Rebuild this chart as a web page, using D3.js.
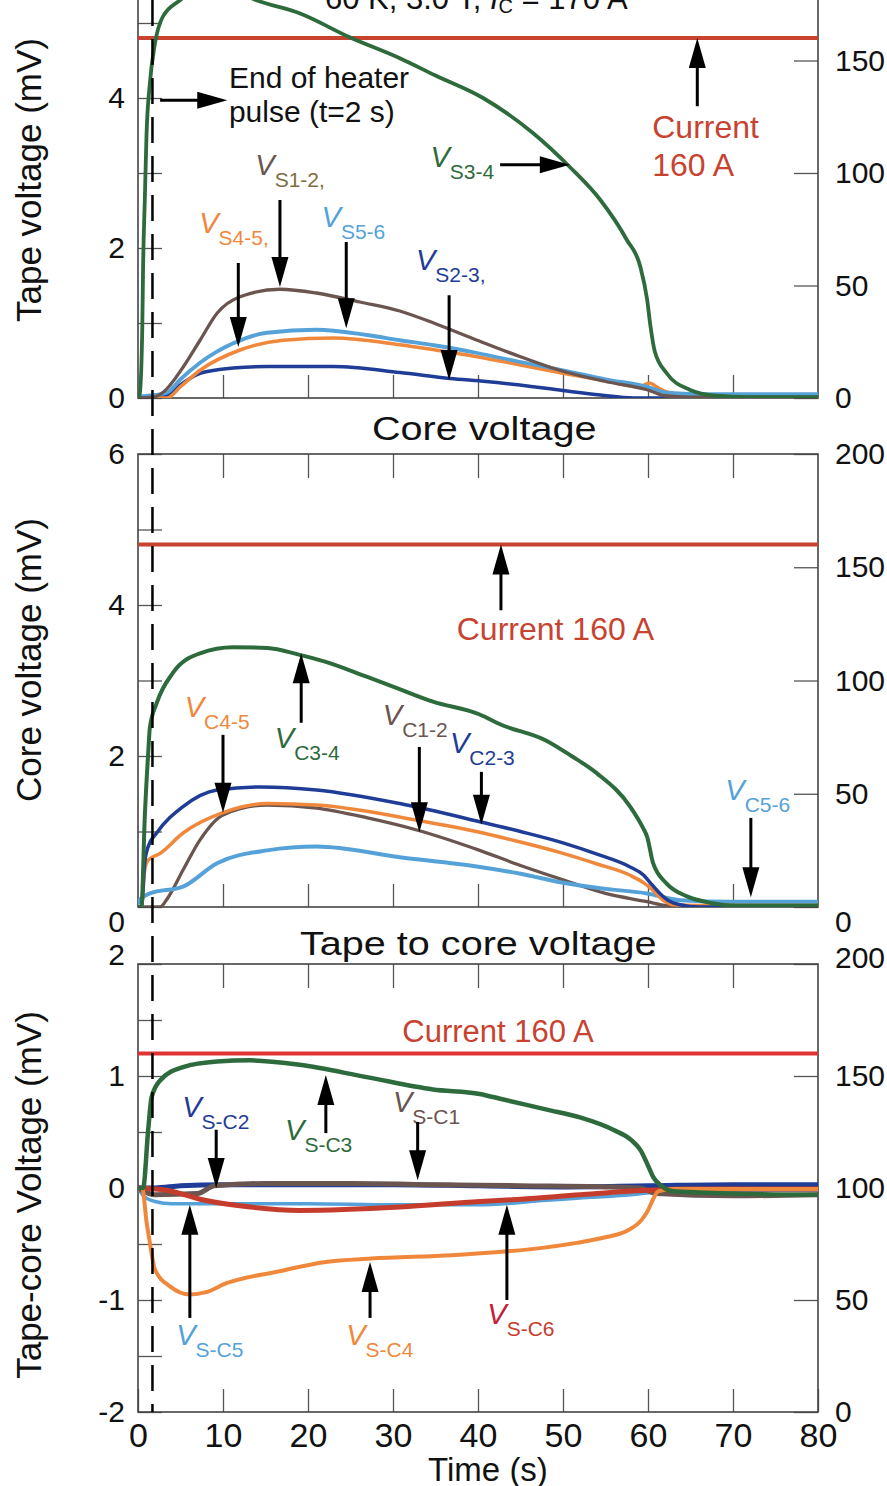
<!DOCTYPE html>
<html><head><meta charset="utf-8">
<script src="https://cdn.jsdelivr.net/npm/d3@7"></script>
<style>
body{margin:0;background:#fff;}
svg{display:block;}
</style></head><body>
<svg id="c" width="887" height="1486"></svg>
<script>
// ---------------- DATA ----------------
const timeTicks = [0,10,20,30,40,50,60,70,80];
const minorTimeTicks = [10,20,30,40,50,60,70];
const currentTicks = [0,50,100,150,200];
const currentLevel = 160;         // A
const heaterEnd = 1.7;            // s (position of dashed line)
const titleMain = "60 K, 3.0 T, ";
const titleSub = "C";
const titleEnd = " = 170 A";

// Tape voltage (mV) vs time (s)
const vS34 = [[0,0],[0.2,0.05],[0.5,0.9],[0.6,1.75],[0.8,2.64],[1.0,3.5],[1.4,4.2],[2,4.73],[2.9,5.08],[4.9,5.3],[9,5.55],[14,5.3],[19,5.13],[24.9,4.81],[30.8,4.53],[35,4.3],[40.6,4.0],[46.5,3.53],[50.8,3.08],[54.4,2.64],[57.5,2.11],[59.1,1.75],[59.9,1.31],[60.3,0.95],[60.8,0.62],[62.2,0.33],[64.9,0.11],[68,0.03],[72,0.01],[80,0.01]];
const vS12 = [[0,0],[1.8,0.01],[3,0.08],[5.3,0.41],[7.3,0.77],[9.3,1.13],[12,1.35],[16.7,1.45],[21,1.4],[26.1,1.28],[30.8,1.16],[35,0.99],[39.9,0.77],[45,0.55],[49.6,0.37],[55,0.22],[59.9,0.11],[62,0.03],[65,0.01],[80,0.01]];
const vS56 = [[0,0.02],[2,0.04],[3.4,0.07],[5,0.25],[7.3,0.47],[11.2,0.73],[15.2,0.87],[21,0.91],[26.9,0.84],[30.8,0.77],[35,0.7],[39.9,0.6],[45,0.48],[50,0.37],[55,0.25],[59.9,0.15],[62.2,0.07],[66,0.05],[80,0.05]];
const vS45 = [[0,0],[3.4,0.0],[5,0.15],[7.3,0.37],[12,0.64],[17.1,0.77],[23,0.8],[30.8,0.71],[35,0.64],[39.9,0.55],[45,0.44],[50,0.33],[55,0.23],[59,0.15],[60.2,0.2],[61,0.15],[62.2,0.08],[65,0.03],[80,0.02]];
const vS23 = [[0,0],[3,0.02],[5.3,0.2],[7.3,0.33],[11.2,0.4],[15.2,0.42],[23,0.42],[30.8,0.34],[36.7,0.26],[41,0.22],[46.5,0.15],[50,0.1],[54.4,0.04],[58.3,0.0],[80,0.0]];

// Core voltage (mV)
const vC34 = [[0,0],[0.4,0],[0.8,1.2],[1.2,2.04],[1.4,2.38],[2.2,2.7],[4.1,3.1],[7.3,3.36],[11.2,3.44],[15.2,3.43],[19,3.34],[22,3.25],[26.9,3.05],[30,2.92],[34.7,2.72],[40.2,2.55],[42.6,2.42],[48.1,2.2],[51,2.0],[54,1.77],[57.9,1.33],[59.4,1.05],[59.9,0.93],[60.6,0.58],[62.2,0.31],[64.6,0.14],[67.6,0.05],[70,0.02],[80,0.02]];
const vC23 = [[0,0],[0.4,0],[0.8,0.6],[1.2,0.8],[2.2,0.98],[5.3,1.33],[9.3,1.55],[14.4,1.59],[21,1.55],[30.8,1.37],[40.2,1.13],[45,1.0],[50,0.85],[54,0.7],[57.9,0.53],[59.5,0.42],[60.2,0.33],[61.4,0.18],[62.5,0.08],[63.8,0.03],[66,0.0],[80,0.0]];
const vC45 = [[0,0],[0.4,0],[0.8,0.5],[1.2,0.62],[2.6,0.71],[5.3,0.98],[10,1.25],[15.2,1.37],[21,1.35],[32.8,1.15],[40.2,0.99],[45,0.86],[50,0.71],[54,0.57],[57.9,0.42],[59.5,0.32],[60.2,0.26],[61.8,0.09],[63,0.03],[66,0.02],[80,0.02]];
const vC12 = [[0,0],[2.6,0],[3.5,0.12],[5.3,0.49],[7.3,0.89],[10,1.22],[15.2,1.35],[21,1.31],[27,1.18],[32.8,1.02],[40.2,0.75],[45,0.55],[50,0.36],[55,0.18],[59.9,0.07],[62,0.02],[64,0.0],[80,0.0]];
const vC56 = [[0,0.05],[0.2,0.09],[1.4,0.18],[5.3,0.27],[9.3,0.58],[15.2,0.75],[21,0.8],[30.8,0.66],[40.2,0.53],[45,0.44],[50,0.32],[55,0.24],[59.9,0.18],[63.8,0.09],[70,0.07],[80,0.07]];

// Tape-to-core voltage (mV)
const vSC3 = [[0,0],[0.6,0],[1.2,0.52],[1.6,0.81],[2.6,0.96],[5.3,1.08],[9.3,1.13],[13.2,1.14],[19,1.1],[26.9,0.99],[34.7,0.88],[40.2,0.84],[43,0.79],[48.1,0.7],[52,0.63],[55.9,0.52],[58,0.43],[59.1,0.34],[60,0.2],[60.6,0.1],[61.4,0.03],[63,-0.03],[70,-0.05],[80,-0.06]];
const vSC1 = [[0,0],[2,-0.06],[7,-0.05],[9,0.02],[15,0.04],[25,0.04],[35,0.03],[45,0.02],[55,0.01],[59,0.0],[61,-0.05],[70,-0.07],[80,-0.06]];
const vSC2 = [[0,0],[2,0.0],[5,0.02],[10,0.03],[20,0.03],[30,0.03],[40,0.02],[50,0.01],[60,0.02],[70,0.03],[80,0.03]];
const vSC5 = [[0,0],[0.8,-0.08],[2,-0.12],[4,-0.14],[10,-0.14],[20,-0.14],[30,-0.15],[40,-0.15],[48,-0.11],[52,-0.09],[58,-0.06],[62,-0.03],[70,-0.02],[80,-0.02]];
const vSC6 = [[0,0],[3.4,-0.02],[7.3,-0.1],[13.2,-0.17],[19,-0.2],[30.8,-0.17],[40.2,-0.12],[45,-0.1],[52,-0.06],[60,-0.02],[65,-0.01],[80,-0.01]];
const vSC4 = [[0,0],[0.5,0],[1,-0.3],[1.4,-0.49],[2,-0.73],[3.8,-0.88],[6.1,-0.95],[8,-0.93],[10.4,-0.85],[16.2,-0.75],[22.1,-0.66],[27.4,-0.63],[36.9,-0.6],[42.8,-0.57],[48,-0.53],[51.6,-0.49],[55,-0.44],[57.6,-0.38],[59.3,-0.28],[60,-0.2],[60.6,-0.1],[61.2,-0.03],[63,-0.01],[80,-0.01]];

// ---------------- STYLE ----------------
const FONT = '"Liberation Sans", Arial, Helvetica, sans-serif';
const C = {
  green:"#2e6b3c", brown:"#6b5550", orange:"#f0883c", light:"#55a2d8",
  dark:"#1f3d96", red:"#c8432f", red3:"#e03434", redS:"#c63c2c",
  olive:"#7d6e3e", crimson:"#c0203a"
};

const svg = d3.select("#c").attr("font-family", FONT);
const x = d3.scaleLinear([0,80],[138,818]);
const fmt = d => String(d);

const panels = [
  {id:"p1", y:d3.scaleLinear([0,6],[398,-52]), yR:d3.scaleLinear([0,200],[398,-52]),
   lTicks:[0,1,2,3,4,5,6], lLab:[0,2,4], rLab:[0,50,100,150], xLabels:false},
  {id:"p2", y:d3.scaleLinear([0,6],[907,454]), yR:d3.scaleLinear([0,200],[907,454]),
   lTicks:[0,1,2,3,4,5,6], lLab:[0,2,4,6], rLab:currentTicks, xLabels:false, zeroShift:15},
  {id:"p3", y:d3.scaleLinear([-2,2],[1412,964]), yR:d3.scaleLinear([0,200],[1412,964]),
   lTicks:[-2,-1.5,-1,-0.5,0,0.5,1,1.5,2], lLab:[-2,-1,0,1,2], rLab:currentTicks, xLabels:true, topShift:-9}
];

function styleAxis(g, fs){
  g.attr("font-family", FONT).attr("font-size", fs);
  g.select(".domain").remove();
  g.selectAll(".tick line").attr("stroke","#555").attr("stroke-width",1.3);
  g.selectAll(".tick text").attr("fill","#111");
}

function drawFrame(p){
  const [yb, yt] = p.y.range();
  const gAx = svg.append("g");
  const gl = gAx.append("g").attr("transform","translate(138,0)")
    .call(d3.axisLeft(p.y).tickValues(p.lTicks).tickSize(-24).tickSizeOuter(0).tickPadding(13)
      .tickFormat(d => p.lLab.includes(d) ? fmt(d) : ""));
  styleAxis(gl, 30);
  const gr = gAx.append("g").attr("transform","translate(818,0)")
    .call(d3.axisRight(p.yR).tickValues(currentTicks).tickSize(-24).tickSizeOuter(0).tickPadding(17)
      .tickFormat(d => p.rLab.includes(d) ? fmt(d) : ""));
  styleAxis(gr, 30);
  if (p.zeroShift){
    gl.selectAll(".tick text").filter(d=>d===0).attr("transform",`translate(0,${p.zeroShift})`);
    gr.selectAll(".tick text").filter(d=>d===0).attr("transform",`translate(0,${p.zeroShift})`);
  }
  if (p.topShift){
    gl.selectAll(".tick text").filter(d=>d===p.y.domain()[1]).attr("transform",`translate(0,${p.topShift})`);
    gr.selectAll(".tick text").filter(d=>d===200).attr("transform",`translate(0,${p.topShift+3})`);
  }
  const gb = gAx.append("g").attr("transform",`translate(0,${yb})`)
    .call(d3.axisBottom(x).tickValues(p.xLabels ? timeTicks : minorTimeTicks).tickSize(-23).tickSizeOuter(0).tickPadding(11)
      .tickFormat(p.xLabels ? fmt : ""));
  styleAxis(gb, 34);
  const gt = gAx.append("g").attr("transform",`translate(0,${yt})`)
    .call(d3.axisTop(x).tickValues(minorTimeTicks).tickSize(-24).tickSizeOuter(0).tickFormat(""));
  styleAxis(gt, 30);
  svg.append("rect").attr("x",x(0)).attr("y",yt).attr("width",x(80)-x(0)).attr("height",yb-yt)
    .attr("fill","none").attr("stroke","#444").attr("stroke-width",1.6);
  svg.append("clipPath").attr("id","clip-"+p.id).append("rect")
    .attr("x",x(0)).attr("y",yt).attr("width",x(80)-x(0)).attr("height",yb-yt);
}

function drawSeries(p, data, color, w){
  const line = d3.line().x(d=>x(d[0])).y(d=>p.y(d[1])).curve(d3.curveMonotoneX);
  svg.append("path").attr("clip-path",`url(#clip-${p.id})`).datum(data)
    .attr("d", line).attr("fill","none").attr("stroke",color).attr("stroke-width",w)
    .attr("stroke-linejoin","round").attr("stroke-linecap","round");
}
function drawCurrent(p, color){
  drawSeries({...p, y:p.yR}, [[0,currentLevel],[80,currentLevel]], color, 4);
}

function arrow(x1,y1,x2,y2){
  const dx=x2-x1, dy=y2-y1, L=Math.hypot(dx,dy), ux=dx/L, uy=dy/L;
  const hl=30, hw=8.5;
  const bx=x2-ux*hl, by=y2-uy*hl;
  svg.append("line").attr("x1",x1).attr("y1",y1).attr("x2",bx+ux*2).attr("y2",by+uy*2)
    .attr("stroke","#000").attr("stroke-width",3);
  svg.append("path").attr("d",`M${x2},${y2}L${bx-uy*hw},${by+ux*hw}L${bx+uy*hw},${by-ux*hw}Z`).attr("fill","#000");
}
function vArrow(p, t, v1, v2){ arrow(x(t), p.y(v1), x(t), p.y(v2)); }

function vLabel(p, t, v, sub, vColor, subColor){
  const tx = svg.append("text").attr("x",x(t)).attr("y",p.y(v));
  tx.append("tspan").attr("font-style","italic").attr("font-size",29).attr("fill",vColor).text("V");
  tx.append("tspan").attr("font-size",21).attr("dy",12).attr("dx",0).attr("fill",subColor||vColor).text(sub);
}
function plainText(px, py, str, color, fs){
  return svg.append("text").attr("x",px).attr("y",py).attr("fill",color).attr("font-size",fs).text(str);
}
function wideText(px, py, str, fs, sx){
  return svg.append("text").attr("transform",`translate(${px},${py}) scale(${sx},1)`)
    .attr("fill","#111").attr("font-size",fs).text(str);
}

// ---------------- PANELS ----------------
panels.forEach(drawFrame);
const [P1,P2,P3] = panels;

drawCurrent(P1, C.red);
drawSeries(P1, vS23, C.dark, 3.5);
drawSeries(P1, vS45, C.orange, 3.5);
drawSeries(P1, vS56, C.light, 3.8);
drawSeries(P1, vS12, C.brown, 3.3);
drawSeries(P1, vS34, C.green, 3.8);

drawCurrent(P2, C.red);
drawSeries(P2, vC12, C.brown, 3.3);
drawSeries(P2, vC56, C.light, 4);
drawSeries(P2, vC45, C.orange, 3.5);
drawSeries(P2, vC23, C.dark, 3.5);
drawSeries(P2, vC34, C.green, 4);

drawCurrent(P3, C.red3);
drawSeries(P3, vSC5, C.light, 3.5);
drawSeries(P3, vSC2, C.dark, 5);
drawSeries(P3, vSC1, C.brown, 5);
drawSeries(P3, vSC6, C.redS, 5);
drawSeries(P3, vSC4, C.orange, 4);
drawSeries(P3, vSC3, C.green, 4.5);

svg.append("line").attr("x1",x(heaterEnd)).attr("x2",x(heaterEnd)).attr("y1",0).attr("y2",P3.y(-2))
  .attr("stroke","#000").attr("stroke-width",2.5).attr("stroke-dasharray","26,13");

// ---------------- TEXT & ANNOTATIONS ----------------
const tt = svg.append("text").attr("x",325).attr("y",9).attr("font-size",31).attr("fill","#111");
tt.append("tspan").text(titleMain);
tt.append("tspan").attr("font-style","italic").text("I");
tt.append("tspan").attr("font-size",20).attr("dy",4).text(titleSub);
tt.append("tspan").attr("dy",-4).text(titleEnd);

wideText(372, 440, "Core voltage", 33, 1.2);
wideText(300, 955, "Tape to core voltage", 33, 1.2);

function yTitle(cx, cy, str){
  svg.append("text").attr("transform",`translate(${cx},${cy}) rotate(-90)`)
    .attr("text-anchor","middle").attr("font-size",35).attr("fill","#111").text(str);
}
yTitle(41, 180, "Tape voltage (mV)");
yTitle(41, 660, "Core voltage (mV)");
yTitle(41, 1195, "Tape-core Voltage (mV)");

svg.append("text").attr("x",488).attr("y",1481).attr("text-anchor","middle")
  .attr("font-size",33).attr("fill","#111").text("Time (s)");

// Panel 1
plainText(x(10.7), P1.y(4.13), "End of heater", "#111", 30);
plainText(x(10.7), P1.y(3.68), "pulse (t=2 s)", "#111", 30);
arrow(x(2.6), P1.y(3.97), x(10.5), P1.y(3.97));
plainText(x(60.5), P1.y(3.47), "Current", C.red, 32);
plainText(x(60.5), P1.y(2.96), "160 A", C.red, 32);
arrow(x(65.8), P1.y(3.89), x(65.8), P1.yR(currentLevel));
vLabel(P1, 34.4, 3.08, "S3-4", C.green);
arrow(x(42.6), P1.y(3.11), x(50.8), P1.y(3.11));
vLabel(P1, 13.8, 2.97, "S1-2,", C.brown, C.olive);
vArrow(P1, 16.7, 2.64, 1.48);
vLabel(P1, 7.2, 2.2, "S4-5,", C.orange);
vArrow(P1, 11.8, 1.8, 0.68);
vLabel(P1, 21.6, 2.28, "S5-6", C.light);
vArrow(P1, 24.5, 2.08, 0.93);
vLabel(P1, 32.7, 1.71, "S2-3,", C.dark);
vArrow(P1, 36.6, 1.37, 0.24);

// Panel 2
plainText(x(37.5), P2.y(3.54), "Current 160 A", C.red, 32);
arrow(x(42.7), P2.y(3.93), x(42.7), P2.yR(currentLevel));
vLabel(P2, 5.5, 2.52, "C4-5", C.orange);
vArrow(P2, 10, 2.28, 1.25);
vLabel(P2, 16.1, 2.11, "C3-4", C.green);
vArrow(P2, 19.2, 2.44, 3.36);
vLabel(P2, 28.8, 2.41, "C1-2", C.brown);
vArrow(P2, 33.1, 2.12, 0.99);
vLabel(P2, 36.7, 2.04, "C2-3", C.dark);
vArrow(P2, 40.4, 1.79, 1.09);
vLabel(P2, 69.1, 1.42, "C5-6", C.light);
vArrow(P2, 72.1, 1.18, 0.13);

// Panel 3
plainText(x(31.1), P3.y(1.30), "Current 160 A", C.red, 31);
vLabel(P3, 5.2, 0.63, "S-C2", C.dark);
vArrow(P3, 9.2, 0.52, 0.0);
vLabel(P3, 17.3, 0.43, "S-C3", C.green);
vArrow(P3, 22.1, 0.49, 1.01);
vLabel(P3, 30.0, 0.68, "S-C1", C.brown);
vArrow(P3, 32.9, 0.59, 0.07);
vLabel(P3, 4.5, -1.40, "S-C5", C.light);
vArrow(P3, 6.1, -1.16, -0.15);
vLabel(P3, 24.5, -1.40, "S-C4", C.orange);
vArrow(P3, 27.3, -1.16, -0.66);
vLabel(P3, 41.1, -1.21, "S-C6", C.crimson, C.redS);
vArrow(P3, 43.4, -1.0, -0.15);
</script>
</body></html>
